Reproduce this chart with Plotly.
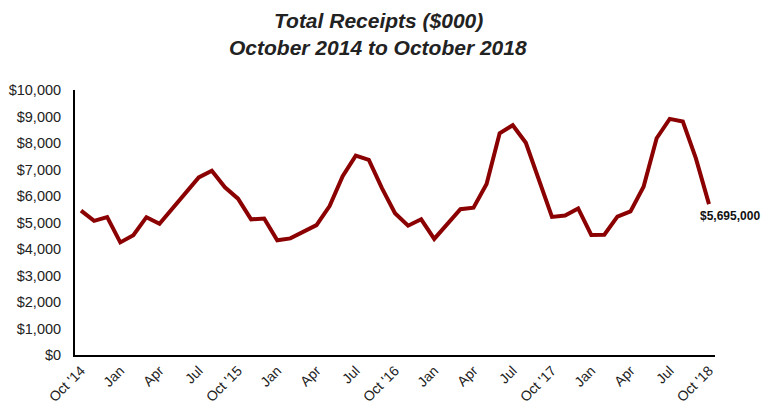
import plotly.graph_objects as go

months = list(range(49))
receipts = [5450, 5060, 5200, 4250, 4520, 5200, 4950, 5550, 6100, 6700, 6950, 6330,
            5900, 5120, 5150, 4330, 4400, 4650, 4900, 5620, 6750, 7520, 7360, 6300,
            5350, 4880, 5120, 4380, 4940, 5500, 5560, 6450, 8370, 8670, 8010, 6600,
            5210, 5260, 5530, 4530, 4540, 5220, 5420, 6350, 8180, 8910, 8810, 7420,
            5695]
tick_vals = list(range(0, 49, 3))
tick_text = ["Oct '14", "Jan", "Apr", "Jul", "Oct '15", "Jan", "Apr", "Jul",
             "Oct '16", "Jan", "Apr", "Jul", "Oct '17", "Jan", "Apr", "Jul", "Oct '18"]
y_ticks = list(range(0, 10001, 1000))
y_text = ["$" + format(v, ",") for v in y_ticks]
end_label = "$5,695,000"
title_lines = ["Total Receipts ($000)", "October 2014 to October 2018"]

W, H = 768, 404
ML, MR, MT, MB = 75, 53, 90, 49

fig = go.Figure()
fig.add_trace(go.Scatter(x=months, y=receipts, mode="lines",
                         line=dict(color="#8B0000", width=4), hoverinfo="skip"))

fig.add_annotation(x=months[-1], y=receipts[-1], text="<b>" + end_label + "</b>",
                   showarrow=False, xanchor="left", yanchor="middle",
                   xshift=-11, yshift=-12,
                   font=dict(family="Liberation Sans, Arial", size=12, color="#111"))

# title lines as paper annotations (positions in pixels converted to paper coords)
title_y_px = [20, 47]
for txt, ypx in zip(title_lines, title_y_px):
    fig.add_annotation(xref="paper", yref="paper",
                       x=(378 - ML) / (W - ML - MR),
                       y=1 + (MT - ypx) / (H - MT - MB),
                       text="<b><i>" + txt + "</i></b>", showarrow=False,
                       xanchor="center", yanchor="middle",
                       font=dict(family="Liberation Sans, Arial", size=21, color="#222"))

fig.update_layout(
    width=W, height=H,
    paper_bgcolor="white", plot_bgcolor="white",
    margin=dict(l=ML, r=MR, t=MT, b=MB, autoexpand=False),
    showlegend=False,
    font=dict(family="Liberation Sans, Arial", color="#222"),
    xaxis=dict(range=[-0.46, 48.46], tickvals=tick_vals, ticktext=tick_text,
               tickangle=-45, showgrid=False, zeroline=False, automargin=False,
               showline=True, linecolor="black", linewidth=2, ticks="",
               tickfont=dict(size=14, color="#222")),
    yaxis=dict(range=[0, 10000], tickvals=y_ticks, ticktext=y_text,
               showgrid=False, zeroline=False, automargin=False,
               showline=True, linecolor="black", linewidth=2, ticks="",
               ticklabelstandoff=9,
               tickfont=dict(size=14.5, color="#222")),
)

fig.write_html("out.html", config={"displayModeBar": False},
               post_script="document.body.style.margin='0';document.body.style.overflow='hidden';")
